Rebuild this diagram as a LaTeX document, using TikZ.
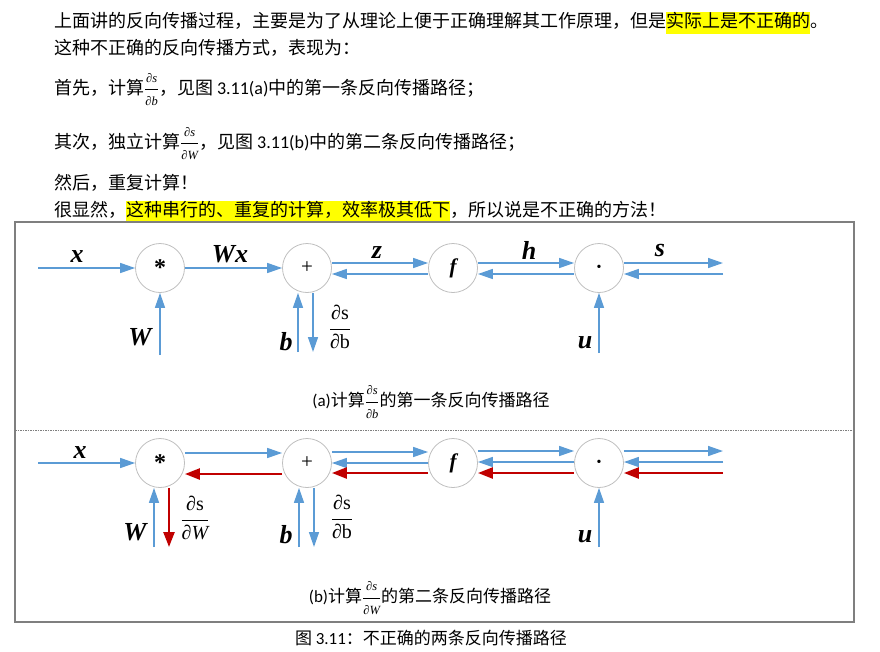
\documentclass[tikz,border=0pt]{standalone}
\usepackage{fontspec}
\setmainfont{Liberation Serif}
\newfontfamily\cjk{Noto Sans CJK SC}
\newfontfamily\lat{Carlito}
\usetikzlibrary{arrows.meta}
\definecolor{blu}{HTML}{5B9BD5}
\definecolor{rdd}{HTML}{C00000}
\definecolor{circ}{HTML}{BFBFBF}
\definecolor{hl}{HTML}{FFFF00}
\definecolor{frm}{HTML}{7F7F7F}
\newcommand\hlt[1]{{\setlength\fboxsep{0pt}\colorbox{hl}{\strut #1}}}
\newcommand\sfr[2]{\ensuremath{\displaystyle\frac{\hbox{\rmfamily\itshape\fontsize{12.5}{13}\selectfont ∂#1}}{\hbox{\rmfamily\itshape\fontsize{12.5}{13}\selectfont ∂#2}}}}
\newcommand\dfr[2]{\ensuremath{\displaystyle\frac{\hbox{\rmfamily\fontsize{20}{20}\selectfont ∂s}}{\hbox{\rmfamily\fontsize{20}{20}\selectfont ∂#1#2}}}}
\tikzset{
  txt/.style={anchor=base west, inner sep=0pt, font=\cjk\fontsize{18}{22}\selectfont},
  captxt/.style={inner sep=0pt, font=\cjk\fontsize{17}{21}\selectfont},
  opnode/.style={circle, draw=circ, line width=0.8pt, minimum size=49pt, inner sep=0pt, font=\fontsize{21}{21}\selectfont},
  bl/.style={draw=blu, line width=1.5pt, -{Triangle[length=15pt,width=10pt]}},
  rd/.style={draw=rdd, line width=2.4pt, -{Triangle[length=15pt,width=11pt]}},
  lab/.style={inner sep=0pt, font=\bfseries\itshape\fontsize{26}{26}\selectfont},
  frl/.style={inner sep=0pt, font=\fontsize{20}{24}\selectfont},
}
\newcommand\opstar{\raisebox{-5pt}{\fontsize{24}{24}\selectfont\bfseries *}}
\newcommand\opf{\bfseries\itshape f}
\newcommand\opdot{\fontsize{14}{14}\selectfont\textbullet}
\begin{document}
\begin{tikzpicture}[x=1pt,y=-1pt]
\useasboundingbox (0,0) rectangle (880,651);
% ---- text above ----
\node[txt] (t1) at (54,27) {上面讲的反向传播过程，主要是为了从理论上便于正确理解其工作原理，但是\hlt{实际上是不正确的}。};
\node[txt] (t2) at (54,54) {这种不正确的反向传播方式，表现为：};
\node[txt] (t3) at (54,94) {首先，计算\sfr{s}{b}，见图 {\lat 3.11(a)}中的第一条反向传播路径；};
\node[txt] (t4) at (54,148) {其次，独立计算\sfr{s}{W}，见图 {\lat 3.11(b)}中的第二条反向传播路径；};
\node[txt] (t5) at (54,189) {然后，重复计算！};
\node[txt] (t6) at (54,216) {很显然，\hlt{这种串行的、重复的计算，效率极其低下}，所以说是不正确的方法！};
% ---- frame ----
\draw[frm, line width=1.2pt] (15,222) rectangle (854,622);
\draw[frm, line width=0.6pt, dash pattern=on 1.5pt off 1pt] (15,430) -- (854,430);
% ---- diagram (a) ----
\node[opnode] (am) at (160,268) {\opstar};
\node[opnode] (ap) at (307,268) {+};
\node[opnode] (af) at (453,268) {\opf};
\node[opnode] (ad) at (599,268) {\opdot};
\coordinate (ax0) at (38,268);
\coordinate (aW) at (160,355);
\coordinate (ab1) at (298,352);
\coordinate (ab2) at (313,352);
\coordinate (au) at (599,353);
\coordinate (as1) at (723,263);
\coordinate (as2) at (723,274);
\draw[bl] (ax0) -- (am);
\draw[bl] (am) -- (ap);
\draw[bl] ([yshift=5pt]ap.east) -- ([yshift=5pt]af.west);
\draw[bl] ([yshift=-6pt]af.west) -- ([yshift=-6pt]ap.east);
\draw[bl] ([yshift=5pt]af.east) -- ([yshift=5pt]ad.west);
\draw[bl] ([yshift=-6pt]ad.west) -- ([yshift=-6pt]af.east);
\draw[bl] ([yshift=5pt]ad.east) -- (as1);
\draw[bl] (as2) -- ([yshift=-6pt]ad.east);
\draw[bl] (aW) -- (am);
\draw[bl] (ab1) -- ([xshift=-9pt]ap.south);
\draw[bl] ([xshift=6pt]ap.south) -- (ab2);
\draw[bl] (au) -- (ad);
\node[lab] (lx) at (77,257) {x};
\node[lab] (lWx) at (230,254) {Wx};
\node[lab] (lz) at (377,253) {z};
\node[lab] (lh) at (529,250) {h};
\node[lab] (ls) at (660,250) {s};
\node[lab] (lW) at (140,337) {W};
\node[lab] (lb) at (286,342) {b};
\node[lab] (lu) at (585,343) {u};
\node[frl] (lfb) at (340,327) {\dfr{}{b}};
\node[captxt] (capa) at (431,402) {{\lat (a)}计算\sfr{s}{b}的第一条反向传播路径};
% ---- diagram (b) ----
\node[opnode] (bm) at (160,463) {\opstar};
\node[opnode] (bp) at (307,463) {+};
\node[opnode] (bf) at (453,463) {\opf};
\node[opnode] (bd) at (599,463) {\opdot};
\coordinate (bx0) at (38,463);
\coordinate (bW1) at (154,547);
\coordinate (bW2) at (169,547);
\coordinate (bb1) at (299,547);
\coordinate (bb2) at (314,547);
\coordinate (bu) at (599,547);
\coordinate (bs1) at (723,451);
\coordinate (bs2) at (723,462);
\coordinate (bs3) at (723,473);
\draw[bl] (bx0) -- (bm);
\draw[bl] ([yshift=10pt]bm.east) -- ([yshift=10pt]bp.west);
\draw[rd] ([yshift=-11pt]bp.west) -- ([yshift=-11pt]bm.east);
\draw[bl] ([yshift=11pt]bp.east) -- ([yshift=11pt]bf.west);
\draw[bl] (bf.west) -- (bp.east);
\draw[rd] ([yshift=-10pt]bf.west) -- ([yshift=-10pt]bp.east);
\draw[bl] ([yshift=12pt]bf.east) -- ([yshift=12pt]bd.west);
\draw[bl] ([yshift=1pt]bd.west) -- ([yshift=1pt]bf.east);
\draw[rd] ([yshift=-10pt]bd.west) -- ([yshift=-10pt]bf.east);
\draw[bl] ([yshift=12pt]bd.east) -- (bs1);
\draw[bl] (bs2) -- ([yshift=1pt]bd.east);
\draw[rd] (bs3) -- ([yshift=-10pt]bd.east);
\draw[bl] (bW1) -- ([xshift=-6pt]bm.south);
\draw[rd] ([xshift=9pt]bm.south) -- (bW2);
\draw[bl] (bb1) -- ([xshift=-8pt]bp.south);
\draw[bl] ([xshift=7pt]bp.south) -- (bb2);
\draw[bl] (bu) -- (bd);
\node[lab] (mx) at (80,453) {x};
\node[lab] (mW) at (135,532) {W};
\node[lab] (mb) at (286,535) {b};
\node[lab] (mu) at (585,537) {u};
\node[frl] (mfW) at (195,518) {\dfr{}{\itshape W}};
\node[frl] (mfb) at (342,517) {\dfr{}{b}};
\node[captxt] (capb) at (430,598) {{\lat (b)}计算\sfr{s}{W}的第二条反向传播路径};
\node[captxt] (capf) at (431,638) {图 {\lat 3.11}：不正确的两条反向传播路径};
\end{tikzpicture}
\end{document}
